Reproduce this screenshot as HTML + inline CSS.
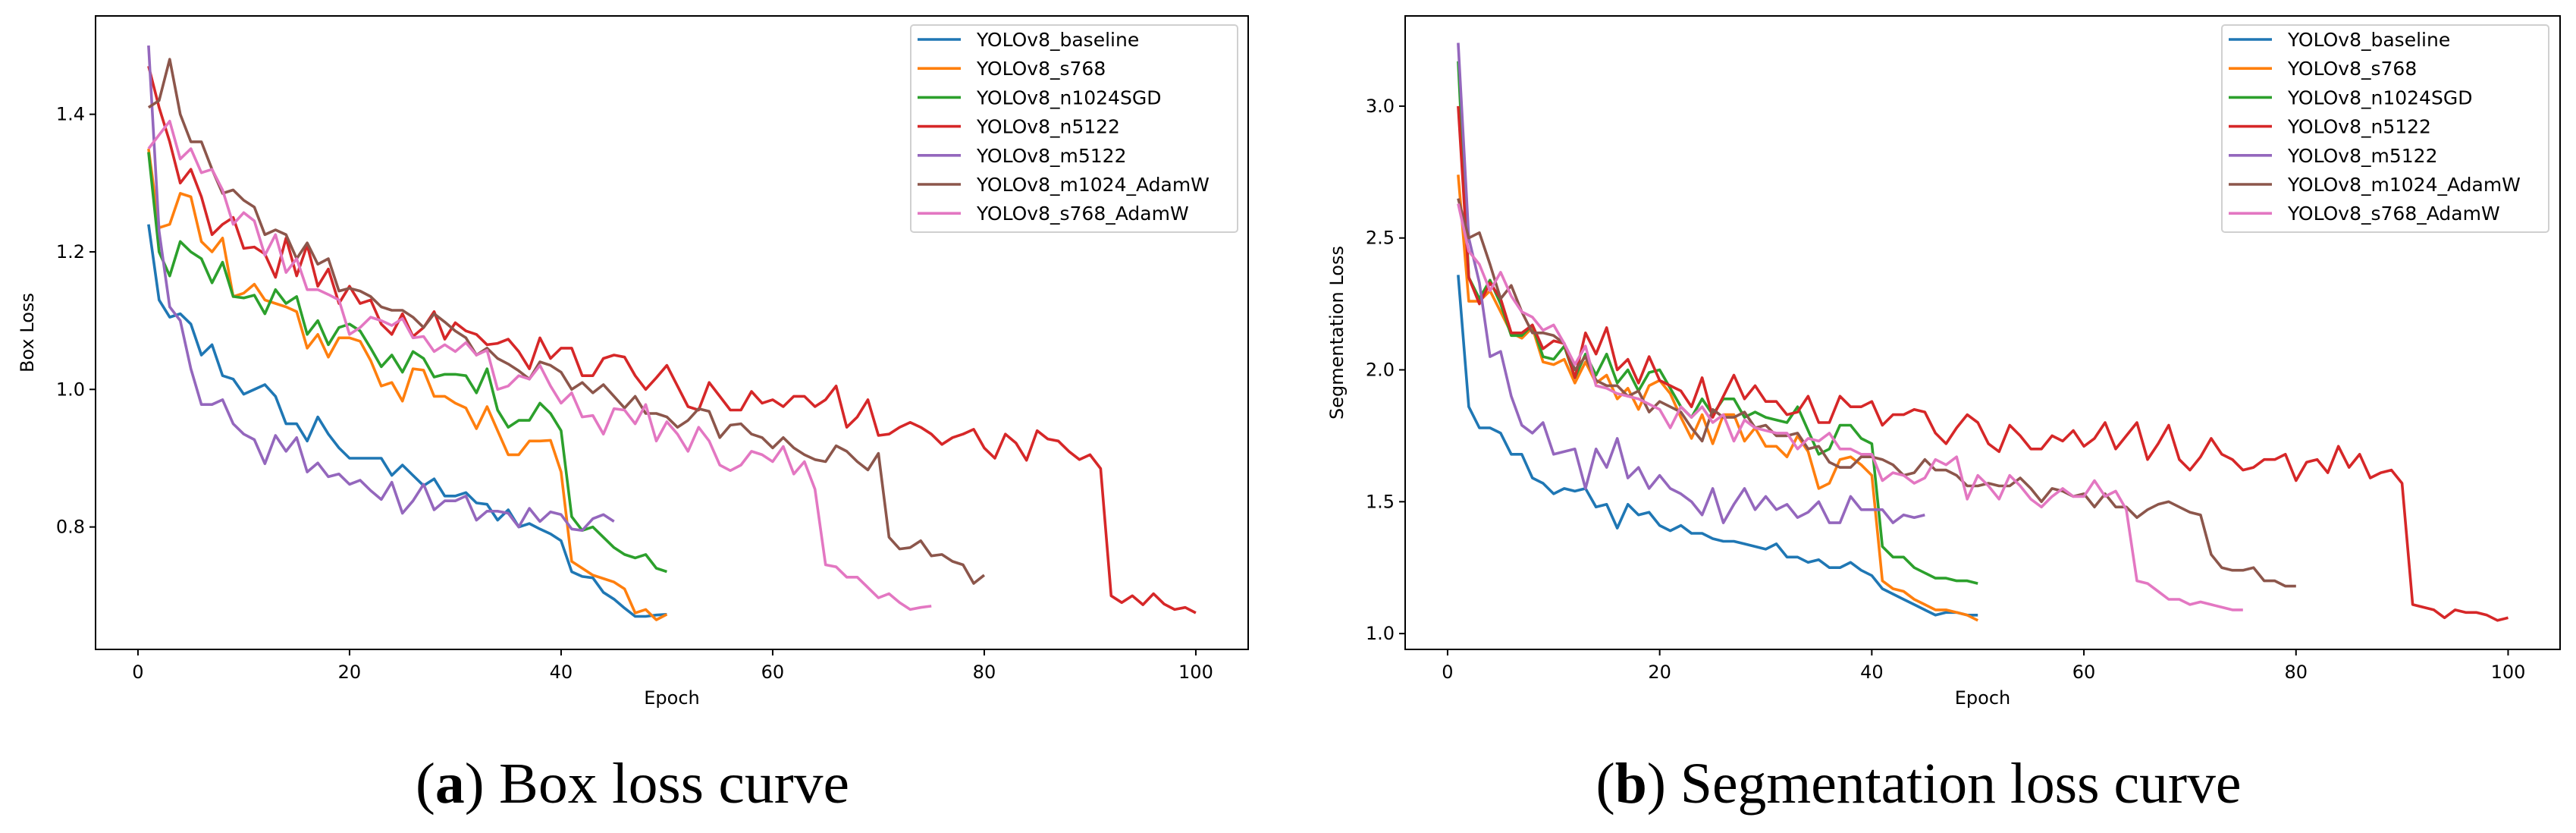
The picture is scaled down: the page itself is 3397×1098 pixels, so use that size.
<!DOCTYPE html>
<html><head><meta charset="utf-8"><style>
html,body{margin:0;padding:0;background:#fff;}
svg{display:block;}
text{font-family:"DejaVu Sans","Liberation Sans",sans-serif;fill:#000;}
.cap{font-family:"Liberation Serif",serif;font-size:76px;}
</style></head><body>
<svg id="fig" width="3397" height="1098" viewBox="0 0 3397 1098" xmlns="http://www.w3.org/2000/svg">
<text class="cap" x="834" y="1058" text-anchor="middle" textLength="572" lengthAdjust="spacingAndGlyphs">(<tspan font-weight="bold">a</tspan>) Box loss curve</text>
<text class="cap" x="2530" y="1058" text-anchor="middle" textLength="851" lengthAdjust="spacingAndGlyphs">(<tspan font-weight="bold">b</tspan>) Segmentation loss curve</text>
</svg>
<script>
const seriesNames=["YOLOv8_baseline","YOLOv8_s768","YOLOv8_n1024SGD","YOLOv8_n5122","YOLOv8_m5122","YOLOv8_m1024_AdamW","YOLOv8_s768_AdamW"];
const xTicks=[0,20,40,60,80,100];
const boxYTicks=[0.8,1.0,1.2,1.4];
const segYTicks=[1.0,1.5,2.0,2.5,3.0];
const boxBaseline=[1.24,1.13,1.105,1.11,1.095,1.05,1.065,1.02,1.015,0.993,1.0,1.007,0.99,0.95,0.95,0.925,0.96,0.935,0.915,0.9,0.9,0.9,0.9,0.875,0.89,0.875,0.86,0.87,0.845,0.845,0.85,0.835,0.833,0.81,0.825,0.8,0.805,0.797,0.79,0.78,0.735,0.728,0.726,0.705,0.695,0.682,0.67,0.67,0.672,0.673];
const boxS768=[1.35,1.235,1.24,1.285,1.28,1.215,1.2,1.22,1.135,1.14,1.153,1.13,1.125,1.12,1.113,1.06,1.08,1.047,1.075,1.075,1.07,1.042,1.005,1.01,0.983,1.03,1.028,0.99,0.99,0.98,0.973,0.943,0.975,0.94,0.905,0.905,0.925,0.925,0.926,0.88,0.75,0.74,0.73,0.725,0.72,0.71,0.675,0.68,0.665,0.673];
const boxN1024SGD=[1.345,1.2,1.165,1.215,1.2,1.19,1.155,1.185,1.135,1.133,1.137,1.11,1.145,1.125,1.135,1.08,1.1,1.065,1.09,1.095,1.085,1.06,1.033,1.05,1.025,1.055,1.045,1.018,1.022,1.022,1.02,0.995,1.03,0.97,0.945,0.955,0.955,0.98,0.965,0.94,0.815,0.795,0.8,0.785,0.77,0.76,0.755,0.76,0.74,0.735];
const boxN5122=[1.47,1.41,1.36,1.3,1.32,1.28,1.225,1.24,1.25,1.205,1.207,1.197,1.163,1.22,1.165,1.21,1.15,1.175,1.125,1.15,1.125,1.13,1.095,1.08,1.11,1.077,1.09,1.113,1.073,1.097,1.085,1.08,1.065,1.067,1.073,1.055,1.03,1.075,1.045,1.06,1.06,1.02,1.02,1.045,1.05,1.047,1.02,1.0,1.017,1.035,1.005,0.975,0.97,1.01,0.99,0.97,0.97,0.997,0.98,0.985,0.975,0.99,0.99,0.975,0.985,1.005,0.945,0.96,0.985,0.933,0.935,0.945,0.952,0.945,0.935,0.92,0.93,0.935,0.942,0.915,0.9,0.935,0.922,0.897,0.94,0.928,0.925,0.91,0.898,0.905,0.885,0.7,0.69,0.7,0.687,0.703,0.688,0.68,0.683,0.675];
const boxM5122=[1.5,1.23,1.12,1.1,1.03,0.978,0.978,0.985,0.95,0.935,0.927,0.892,0.933,0.91,0.93,0.88,0.893,0.873,0.877,0.862,0.868,0.853,0.84,0.865,0.82,0.838,0.862,0.825,0.838,0.838,0.845,0.81,0.823,0.823,0.82,0.8,0.827,0.808,0.822,0.818,0.797,0.795,0.812,0.818,0.808];
const boxM1024AdamW=[1.41,1.42,1.48,1.4,1.36,1.36,1.32,1.285,1.29,1.275,1.265,1.225,1.232,1.225,1.19,1.213,1.182,1.19,1.143,1.147,1.143,1.135,1.12,1.115,1.115,1.105,1.09,1.11,1.098,1.085,1.075,1.05,1.06,1.045,1.037,1.027,1.015,1.04,1.035,1.025,1.0,1.01,0.995,1.007,0.99,0.973,0.99,0.965,0.965,0.96,0.945,0.955,0.972,0.968,0.93,0.948,0.95,0.935,0.93,0.915,0.93,0.915,0.905,0.898,0.895,0.918,0.91,0.895,0.883,0.907,0.785,0.768,0.77,0.78,0.758,0.76,0.75,0.745,0.718,0.73];
const boxS768AdamW=[1.35,1.37,1.39,1.335,1.35,1.315,1.32,1.29,1.24,1.257,1.245,1.195,1.225,1.17,1.19,1.145,1.145,1.138,1.13,1.08,1.09,1.105,1.1,1.093,1.103,1.075,1.077,1.055,1.065,1.055,1.068,1.05,1.057,1.0,1.005,1.02,1.015,1.035,1.005,0.98,0.995,0.96,0.962,0.935,0.972,0.97,0.95,0.978,0.925,0.953,0.935,0.91,0.945,0.925,0.89,0.882,0.89,0.91,0.905,0.895,0.917,0.877,0.895,0.855,0.745,0.742,0.727,0.727,0.712,0.697,0.703,0.69,0.68,0.683,0.685];
const segBaseline=[2.36,1.86,1.78,1.78,1.76,1.68,1.68,1.59,1.57,1.53,1.55,1.54,1.55,1.48,1.49,1.40,1.49,1.45,1.46,1.41,1.39,1.41,1.38,1.38,1.36,1.35,1.35,1.34,1.33,1.32,1.34,1.29,1.29,1.27,1.28,1.25,1.25,1.27,1.24,1.22,1.17,1.15,1.13,1.11,1.09,1.07,1.08,1.08,1.07,1.07];
const segS768=[2.74,2.26,2.26,2.30,2.22,2.14,2.12,2.16,2.03,2.02,2.04,1.95,2.03,1.95,1.98,1.89,1.93,1.85,1.94,1.96,1.91,1.82,1.74,1.83,1.72,1.83,1.83,1.73,1.78,1.71,1.71,1.67,1.75,1.69,1.55,1.57,1.66,1.67,1.64,1.60,1.20,1.17,1.16,1.13,1.11,1.09,1.09,1.08,1.07,1.05];
const segN1024SGD=[3.17,2.35,2.27,2.34,2.25,2.13,2.13,2.17,2.05,2.04,2.09,1.97,2.06,1.98,2.06,1.95,2.0,1.92,1.99,2.0,1.93,1.86,1.82,1.89,1.83,1.89,1.89,1.82,1.84,1.82,1.81,1.80,1.86,1.77,1.68,1.70,1.79,1.79,1.74,1.72,1.33,1.29,1.29,1.25,1.23,1.21,1.21,1.20,1.20,1.19];
const segN5122=[3.0,2.35,2.25,2.33,2.27,2.14,2.14,2.17,2.08,2.11,2.10,1.97,2.14,2.06,2.16,2.0,2.04,1.95,2.05,1.96,1.94,1.92,1.86,1.97,1.82,1.90,1.98,1.89,1.94,1.88,1.88,1.83,1.84,1.90,1.80,1.80,1.90,1.86,1.86,1.88,1.79,1.83,1.83,1.85,1.84,1.76,1.72,1.78,1.83,1.80,1.72,1.69,1.79,1.75,1.70,1.70,1.75,1.73,1.77,1.71,1.74,1.80,1.70,1.75,1.80,1.66,1.72,1.79,1.66,1.62,1.67,1.74,1.68,1.66,1.62,1.63,1.66,1.66,1.68,1.58,1.65,1.66,1.61,1.71,1.63,1.68,1.59,1.61,1.62,1.57,1.11,1.10,1.09,1.06,1.09,1.08,1.08,1.07,1.05,1.06];
const segM5122=[3.24,2.50,2.33,2.05,2.07,1.90,1.79,1.76,1.80,1.68,1.69,1.70,1.55,1.70,1.63,1.74,1.59,1.63,1.55,1.60,1.55,1.53,1.50,1.45,1.55,1.42,1.49,1.55,1.47,1.52,1.47,1.49,1.44,1.46,1.50,1.42,1.42,1.52,1.47,1.47,1.47,1.42,1.45,1.44,1.45];
const segM1024AdamW=[2.65,2.50,2.52,2.40,2.27,2.32,2.22,2.14,2.14,2.13,2.10,2.00,2.05,1.96,1.94,1.94,1.90,1.92,1.84,1.88,1.86,1.84,1.78,1.73,1.85,1.82,1.82,1.84,1.78,1.79,1.75,1.75,1.76,1.70,1.71,1.65,1.63,1.63,1.67,1.67,1.66,1.64,1.60,1.61,1.66,1.62,1.62,1.60,1.56,1.56,1.57,1.56,1.56,1.59,1.55,1.50,1.55,1.54,1.52,1.53,1.48,1.53,1.48,1.48,1.44,1.47,1.49,1.50,1.48,1.46,1.45,1.30,1.25,1.24,1.24,1.25,1.20,1.20,1.18,1.18];
const segS768AdamW=[2.63,2.45,2.40,2.30,2.37,2.28,2.22,2.20,2.15,2.17,2.10,2.02,2.09,1.94,1.93,1.91,1.90,1.89,1.87,1.85,1.78,1.86,1.82,1.86,1.80,1.83,1.73,1.81,1.78,1.77,1.76,1.76,1.70,1.74,1.73,1.76,1.70,1.70,1.68,1.68,1.58,1.61,1.60,1.57,1.59,1.66,1.64,1.67,1.51,1.60,1.56,1.51,1.60,1.56,1.51,1.48,1.52,1.55,1.52,1.52,1.58,1.52,1.54,1.47,1.20,1.19,1.16,1.13,1.13,1.11,1.12,1.11,1.10,1.09,1.09];

const colors=["#1f77b4","#ff7f0e","#2ca02c","#d62728","#9467bd","#8c564b","#e377c2"];
const NS="http://www.w3.org/2000/svg";
const fig=document.getElementById('fig');
function mk(tag,attrs,parent){const e=document.createElementNS(NS,tag);for(const k in attrs)e.setAttribute(k,attrs[k]);(parent||fig).appendChild(e);return e;}

function drawChart(cfg){
  const g=mk('g',{});
  
  
  const sx=v=>cfg.L+(v-cfg.xmin)/(cfg.xmax-cfg.xmin)*(cfg.R-cfg.L);
  const sy=v=>cfg.B-(v-cfg.ymin)/(cfg.ymax-cfg.ymin)*(cfg.B-cfg.T);
  const clip='clip-'+cfg.name;
  const cp=mk('clipPath',{id:clip},g);
  mk('rect',{x:cfg.L,y:cfg.T,width:cfg.R-cfg.L,height:cfg.B-cfg.T},cp);
  const sg=mk('g',{'clip-path':'url(#'+clip+')'},g);
  cfg.series.forEach((arr,i)=>{
    const d=arr.map((v,j)=>(j?'L':'M')+sx(j+1).toFixed(1)+','+sy(v).toFixed(1)).join('');
    const p=mk('path',{d:d,fill:'none',stroke:colors[i],'stroke-width':3.6,'stroke-linejoin':'round'},sg);
    
    
  });
  const fr=mk('rect',{x:cfg.L,y:cfg.T,width:cfg.R-cfg.L,height:cfg.B-cfg.T,fill:'none',stroke:'#000','stroke-width':2},g);
  
  
  xTicks.forEach(t=>{
    const x=sx(t);
    mk('line',{x1:x,x2:x,y1:cfg.B,y2:cfg.B+8,stroke:'#000','stroke-width':2},g);
    const tx=mk('text',{x:x,y:cfg.B+38,'text-anchor':'middle','font-size':24},g);
    tx.textContent=t;
    
    
  });
  cfg.yticks.forEach(t=>{
    const y=sy(t);
    mk('line',{x1:cfg.L-8,x2:cfg.L,y1:y,y2:y,stroke:'#000','stroke-width':2},g);
    const tx=mk('text',{x:cfg.L-14,y:y+8,'text-anchor':'end','font-size':24},g);
    tx.textContent=t.toFixed(1);
    
    
  });
  const xl=mk('text',{x:(cfg.L+cfg.R)/2,y:928,'text-anchor':'middle','font-size':24},g);
  xl.textContent='Epoch';
  
  
  const yc=(cfg.T+cfg.B)/2;
  const yl=mk('text',{x:cfg.ylx,y:yc,'text-anchor':'middle','font-size':24,transform:'rotate(-90 '+cfg.ylx+' '+yc+')'},g);
  yl.textContent=cfg.ylabel;
  
  
  const lg=mk('g',{},g);
  
  
  mk('rect',{x:cfg.lgx,y:33,width:431,height:273,rx:4,fill:'#fff',stroke:'#d0d0d0','stroke-width':2},lg);
  seriesNames.forEach((n,i)=>{
    const y=52+i*38.2;
    const e=mk('g',{},lg);
    
    
    mk('line',{x1:cfg.lgx+9,x2:cfg.lgx+66,y1:y,y2:y,stroke:colors[i],'stroke-width':3.6},e);
    const t=mk('text',{x:cfg.lgx+87,y:y+9,'font-size':25},e);
    t.textContent=n;
  });
}
drawChart({name:'box-loss-chart',L:126,R:1646,T:21,B:856,xmin:-4.01,xmax:104.95,ymin:0.622,ymax:1.543,yticks:boxYTicks,ylabel:'Box Loss',ylx:44,lgx:1201,
  series:[boxBaseline,boxS768,boxN1024SGD,boxN5122,boxM5122,boxM1024AdamW,boxS768AdamW]});
drawChart({name:'segmentation-loss-chart',L:1853,R:3376,T:21,B:856,xmin:-4.0,xmax:104.9,ymin:0.94,ymax:3.342,yticks:segYTicks,ylabel:'Segmentation Loss',ylx:1771,lgx:2930,
  series:[segBaseline,segS768,segN1024SGD,segN5122,segM5122,segM1024AdamW,segS768AdamW]});
</script>
</body></html>
